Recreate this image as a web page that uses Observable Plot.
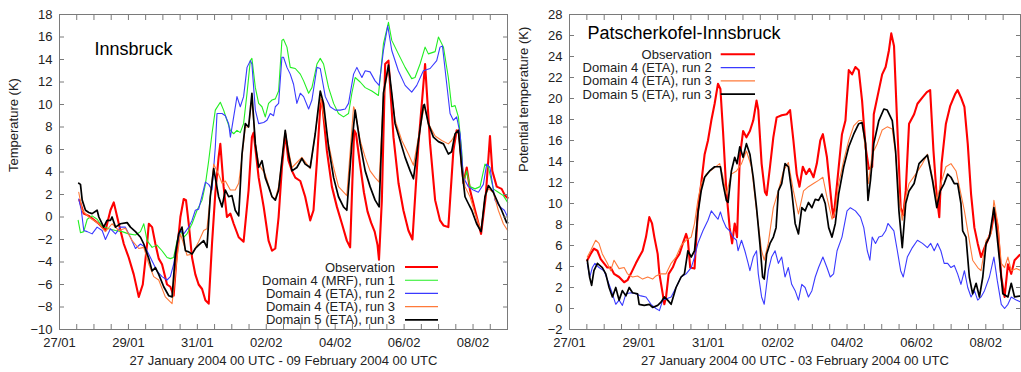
<!DOCTYPE html>
<html>
<head>
<meta charset="utf-8">
<script src="https://cdn.jsdelivr.net/npm/d3@7"></script>
<script src="https://cdn.jsdelivr.net/npm/@observablehq/plot@0.6"></script>
<style>
  body { margin: 0; background: #fff; }
  #wrap { display: flex; width: 1021px; height: 372px; }
  #wrap svg { display: block; }
</style>
</head>
<body>
<div id="wrap"></div>
<script>
// Time is given in hours after 27 January 2004 00 UTC.
const startUTC = Date.UTC(2004, 0, 27);
const spanDays = 13;

// Labelled x ticks (days after start) and y ticks
const xTickDays = [0, 2, 4, 6, 8, 10, 12];
const ibkYTicks = [-10, -8, -6, -4, -2, 0, 2, 4, 6, 8, 10, 12, 14, 16, 18];
const pkYTicks = [-2, 0, 2, 4, 6, 8, 10, 12, 14, 16, 18, 20, 22, 24, 26, 28];

const seriesNames = ["Observation", "Domain 4 (MRF), run 1", "Domain 4 (ETA), run 2", "Domain 4 (ETA), run 3", "Domain 5 (ETA), run 3"];

// ---- Innsbruck temperature (K) ----
const ibkObs = [[13.9,1.5],[16.9,0.3],[20.4,0.1],[27.4,-0.6],[32,-1.2],[35.5,0.6],[37.8,1.3],[41.3,-0.6],[44.8,-2.4],[48.2,-3.6],[51.7,-5.1],[55.2,-7.1],[58,-6],[61,-2.4],[62.2,-0.6],[64.5,-0.9],[66.8,-2.4],[69.1,-3.7],[71.4,-4.2],[74.9,-6],[77.2,-6.2],[79.5,-7],[81.9,-3],[84.2,0],[86.5,1.6],[88.1,1.5],[90,-0.6],[92.3,-3.6],[94.6,-5.1],[96.9,-6],[99.3,-6.4],[101.6,-7.4],[103.9,-7.7],[106.2,-2.4],[108.5,2.1],[110.8,5.3],[112,6.5],[114.3,2.7],[116.6,0],[119,0.3],[121.3,-0.6],[124.8,-1.8],[128.2,-2.2],[131.7,2.4],[134,7.1],[135.2,7.5],[138.7,3.5],[142.2,0.9],[145.6,-2.1],[148,-3],[150.3,-2.8],[152.6,0],[154.9,4.4],[157.2,7.4],[159.5,5],[161.9,4.1],[164.2,3.5],[167.7,3.2],[171.1,1.8],[174.6,-0.3],[176.9,0.6],[179.3,5],[181.6,9.8],[182.7,10.4],[186.2,5.9],[189.7,2.7],[193.2,0.9],[196.7,-0.6],[200.1,-2.1],[202.4,-2.7],[205.2,7.7],[206.5,7.4],[209.5,4.5],[212,2.2],[214.5,0.5],[217,-0.5],[219.5,-1.3],[221.5,-2.5],[222.5,-3.8],[224.5,1.5],[226.8,13.6],[229.1,13.9],[232.6,7.1],[236.1,3],[239.5,0.6],[243,-1.2],[245.8,-2],[250,6.5],[254.6,13.6],[258.1,6.5],[261.6,1.5],[265,-0.3],[267.4,-0.75],[270.8,-0.9],[274.3,5.9],[276.6,7.7],[278.3,7.4],[281.3,3],[283.6,4.4],[285.9,2.4],[289.4,0.6],[293.6,-1.5],[296.8,1.8],[299.8,7.2],[301.4,4.1],[304.5,2.7],[307.9,2.5],[310.3,1.9],[312.1,1.7]];

const ibkMrf1 = [[13,-0.3],[14.6,-1.4],[16.9,-1.3],[19.3,-0.2],[22.7,0.1],[26.2,-0.2],[29.7,-0.8],[34.3,-1.05],[39,-1.2],[43.6,-1.3],[48.2,-1.5],[52.9,-1.6],[56.4,-1.3],[58.7,-0.6],[61,-2.1],[64.5,-2.7],[67.9,-2.5],[71.4,-3],[74.9,-3.6],[77.2,-3.7],[79.5,-3.6],[81.9,-2.1],[84.2,-1.2],[86.5,-1.8],[88.8,-1.5],[92.3,-0.6],[95.8,0.6],[99.3,1.5],[101.6,2.9],[103.9,5],[106.2,7.4],[108.5,9.5],[112,10.2],[114.3,9.5],[116.6,8.6],[119,7.7],[121.3,7.4],[123.6,7.7],[125.9,7.5],[128.2,8.3],[130.6,11],[132.9,13.9],[134,14.1],[136.4,11.5],[138.7,10.1],[141,9.8],[143.3,8.9],[145.6,10.1],[148,10.4],[150.3,10.5],[152.6,11.2],[154.9,15.7],[156,15.8],[158.4,15.1],[160.7,13.3],[164.2,13.2],[167.7,12.7],[170,12.1],[173.5,11],[175.8,11.5],[179.3,13.6],[181.6,14.1],[183.9,13.6],[187.4,11.5],[190.9,10.1],[194.3,9.2],[197.8,8.9],[201.3,9.2],[203.6,11],[205.9,12.4],[209.4,12],[212.9,11.5],[217.5,11.2],[222.1,10.8],[225.6,15.4],[229.1,17.3],[231.4,15.7],[236,14.5],[240.7,13.3],[245.3,12.3],[247.6,12.4],[251.1,13.6],[254.6,15.1],[256.9,14.5],[261.6,14.7],[263.9,16],[267.4,15.1],[270.8,12.4],[273.1,9.8],[275.5,9.9],[277.8,8.9],[280.1,5.9],[281.3,3],[283.6,4.1],[285.9,2.7],[289.4,2.5],[292.9,2.7],[296.3,4.7],[298.7,4.4],[302.1,2.5],[305.6,2.2],[309.1,1.9],[312.1,1.3]];

const ibkEta2 = [[13.4,1.6],[15.2,0.6],[16.9,-1.2],[19.3,-1.3],[22.7,-1.5],[26.2,-0.9],[29.7,-1.2],[32,-2],[35.5,-1.05],[39,-1.5],[42.4,-0.9],[45.9,-0.9],[49.4,-1.8],[52.9,-2.8],[56.4,-2.4],[59.8,-2.7],[63.3,-3.6],[65.6,-4.2],[67.9,-4.8],[71.4,-5.3],[74.9,-5.6],[77.2,-5.3],[79.5,-4.2],[81.9,-2.4],[84.2,-1.2],[86.5,-1.5],[90,-0.9],[92.3,-0.3],[94.6,0.6],[96.9,0.7],[99.3,1.9],[101.6,3.1],[103.9,2.9],[106.2,2.4],[108.5,6.2],[109.7,9.2],[113.2,9.2],[115.5,9],[117.8,8.3],[119,7.1],[121.3,8.9],[123.6,10.7],[125.9,9.8],[128.2,10.7],[130.6,13.3],[132.9,13.9],[134,13.6],[136.4,9.5],[138.7,8.3],[142.2,8.4],[144.5,8.6],[146.8,9.2],[149.1,9],[150.3,9.8],[152.6,10.1],[154.9,14.2],[156,14.2],[158.4,13.3],[160.7,12.7],[163,11.8],[165.3,10.1],[167.7,11],[170,10.7],[173.5,9.6],[175.8,10.4],[179.3,13.3],[181.6,13.2],[185.1,10.7],[188.5,9.8],[192,9.5],[195.5,9.5],[199,9.6],[201.3,10.1],[204.8,12.7],[207.1,13.3],[208.2,13],[210.6,12.4],[212.9,13],[216.3,12.9],[219.8,12.1],[222.6,11.7],[225.6,14.8],[228.6,17],[231.4,14.8],[236,13],[240.7,11.7],[245.3,11.1],[248.8,11.7],[253.4,13],[258.1,13.2],[262.7,13.9],[265,15.1],[266.7,15.2],[269.7,11.8],[272,9.2],[274.3,8.6],[276.6,8.9],[279,7.4],[281.3,3.5],[284.7,2.7],[288.2,2.4],[291.7,2.2],[295.2,2.9],[297.5,4.7],[299.8,4.4],[303.3,1.5],[306.8,0.9],[309.8,0.6],[312.1,0]];

const ibkEta3 = [[13.4,2.2],[15.8,0.6],[20.4,0],[27.4,-0.6],[32,-1.3],[36.6,-0.6],[41.3,-1.2],[45.9,-1.0],[50.6,-2.1],[55.2,-2.8],[58.7,-2.7],[62.2,-4.2],[65.6,-5.3],[69.1,-5.6],[73.7,-7.1],[78.4,-7.7],[81.9,-3.6],[84.2,-1.5],[86.5,-2.4],[88.8,-3.4],[92.3,-3.3],[96.9,-2.2],[100.4,-1.2],[102.7,-1.05],[105,1.8],[107.4,4.7],[110.8,3.8],[113.2,3],[115.5,3.2],[119,2.4],[122.4,2.4],[124.8,3],[127.1,5.3],[129.4,8],[131.7,8],[134,10.5],[136.4,6.5],[138.7,4.7],[143.3,3.8],[148,1.8],[150.3,1.6],[152.6,2.7],[157.2,7.4],[161.9,4.4],[166.5,5],[168.8,5.3],[174.6,4.3],[178.1,7.4],[181.6,10.7],[187.4,6.5],[190.9,4.4],[194.3,2.7],[200.1,1.9],[204.8,9.8],[205.9,9.5],[209.4,6.8],[212.9,5.3],[216.3,4.1],[219.8,3.5],[222.6,3.1],[225.6,10.7],[229.1,13.3],[233.7,8.6],[238.4,6.8],[243,5.6],[246.5,4.6],[250,7.1],[254.1,9.9],[256.9,8.3],[261.6,7.2],[266.2,6.8],[270.8,6.5],[273.1,6.8],[277.8,7.8],[280.1,4.4],[282.4,2.7],[285.9,1.8],[289.4,0.3],[293.6,-1.2],[296.3,1.8],[298.7,2.5],[302.1,2.2],[305.6,0.6],[309.1,-0.6],[312.1,-1.2]];

const ibkD5Eta3 = [[13.4,3.0],[14.6,2.9],[15.8,1.5],[18.1,0.6],[20.4,0.4],[22.7,0.3],[26.2,0.6],[27.4,0],[30.8,-0.9],[33.1,-0.3],[35.5,-0.3],[36.6,0],[39,-0.9],[42.4,-0.6],[47.1,-0.5],[49.4,-0.9],[52.9,-1.3],[56.4,-1.8],[58.7,-2.4],[62.2,-3.7],[64.5,-4.8],[66.8,-4.5],[69.1,-5.1],[72.6,-6.2],[76.1,-7],[78.4,-7.1],[80.7,-3.3],[83,-1.5],[85.3,-0.9],[87.7,-3],[90,-3.1],[92.3,-3.3],[94.6,-2.8],[96.9,-2.5],[100.4,-2.1],[102.7,-2.7],[105,1.8],[107.4,4.3],[108.5,3.5],[110.8,1.8],[113.2,0.9],[115.5,2.4],[117.8,1.8],[120.1,1.9],[122.4,0.6],[124.8,0.1],[127.1,5.6],[129.4,8.3],[131.7,8],[134,11],[136.4,6.5],[138.7,4.4],[141,5],[143.3,3.5],[145.6,2.7],[148,1.8],[150.3,1.5],[152.6,2.4],[157.2,7.7],[159.5,5.6],[161.9,4.1],[165.3,4.4],[168.8,5.2],[171.1,4.7],[174.6,4.4],[178.1,7.4],[181.6,11.2],[183.9,10.1],[187.4,6.2],[190.9,3.5],[194.3,1.8],[197.8,0.9],[200.1,0.6],[203.6,6.5],[205.9,9.5],[209.4,6.5],[212.9,4.1],[216.3,2.7],[219.8,1.5],[222.6,0.9],[225.6,11],[229.1,13.5],[231.4,11],[233.7,8.3],[237.2,6.8],[240.7,5.3],[244.2,4.1],[246.5,3.4],[250,6.8],[253.4,9.9],[254.1,10],[256.9,8.3],[260.4,7.1],[263.9,6.7],[267.4,6.5],[270.8,5.6],[273.1,5.8],[275.5,7.4],[277.8,7.7],[280.1,4.4],[282.4,1.8],[284.7,1.2],[287.1,0.6],[290.5,-0.6],[293.6,-1.3],[296.3,1.8],[298.7,2.8],[302.1,2.2],[305.6,1.2],[307.9,0.6],[311.4,-0.5],[312.1,-0.5]];

// ---- Patscherkofel minus Innsbruck potential temperature (K) ----
const pkObs = [[12.3,4.6],[14.6,5.2],[16.9,5.7],[19.3,5.5],[21.6,4.7],[23.9,4.3],[26.2,3.9],[28.5,3.9],[30.8,3.3],[34.3,3],[37.8,2.5],[40.1,2.7],[42.4,3.3],[45.9,4.3],[48.2,4.9],[50.6,5.5],[52.9,6.8],[55.2,8.7],[57.1,8.1],[58.7,6.8],[61,5.2],[62.2,3.3],[64.5,1.4],[65.6,0.4],[66.8,1.1],[68.6,3.3],[71.4,3.9],[73.7,4.7],[76.1,5.2],[78.4,6.2],[80.7,7.1],[81.9,6.5],[83.5,3.9],[86.5,3.8],[88.8,9.3],[91.1,11.9],[93.5,14.7],[95.8,16],[98.1,17.9],[100.4,19.5],[102.7,21.4],[104.4,20.9],[106.2,16.9],[108.5,11.2],[110.8,7.7],[112.5,6.2],[114.3,8.1],[115.9,6.8],[117.8,14.4],[120.1,16.9],[122.4,16.3],[124.8,16.9],[127.1,17.9],[129.4,19.8],[130.6,18.9],[132.9,13.8],[135.2,11.1],[136.4,10.8],[138.7,13.5],[141,16.3],[143.3,18.2],[146.8,18.4],[150.3,18.5],[152.6,18.9],[154.9,16],[157.2,12.8],[159.1,11.6],[161.4,13.5],[163.7,12.8],[166,13.3],[168.8,12.5],[171.1,13.8],[173.5,16],[175.3,16.6],[178.1,14.4],[181.6,9.6],[182.7,8.7],[185.1,11.9],[188.5,16.6],[190.9,17.9],[193.2,22.7],[195.5,22.3],[197.8,23],[200.1,22.7],[202.4,19.8],[204.8,15.4],[207.1,13.3],[209.4,13.5],[210.5,18.5],[214,20.8],[216.3,22.3],[218.7,23],[221,24.6],[222.6,26.2],[224.5,25],[226.3,18.9],[229.1,9.6],[230.9,8.9],[232.6,11.2],[234.9,17.6],[238.4,18.5],[240.7,19.5],[244.2,20.1],[247.2,20.6],[249.5,20.8],[251.8,15],[254.1,10.6],[255.8,8.7],[257.4,13.8],[260.4,17.6],[263.4,19.3],[266.7,20.4],[268.5,20.8],[270.8,20.1],[273.2,19.2],[275.5,15.7],[277.8,10.9],[280.1,7.7],[282.4,6.2],[284.7,4.9],[287.1,5.8],[289.4,6.5],[291.7,7.4],[294,9.3],[296.3,7.7],[298.7,3],[301,1.1],[303.3,4.2],[305.6,3.3],[307.9,4.6],[311.4,5.1]];

const pkEta2 = [[12.3,4.3],[14,3],[15.8,3.9],[17.6,4.3],[20.4,3.9],[23.9,3.6],[27.4,2.3],[29.7,1.4],[32,0.4],[34.3,0.8],[36.6,0.3],[39,1.4],[42.4,1.5],[45.9,1.4],[49.4,1.2],[52.9,1.1],[56.4,0.4],[59.8,0],[62.2,-0.2],[64.5,0.8],[66.8,0.9],[70.3,1.1],[73.7,2],[77.2,3],[80.7,3.3],[84.2,3.9],[86.5,4.9],[88.8,6.2],[92.3,7.4],[95.8,8.4],[98.1,9.3],[100.4,8.9],[102.7,8.5],[104.4,9.2],[106.2,8.4],[108.5,7.7],[110.8,7.4],[113.2,6.8],[115.5,6.5],[116.6,5.5],[119,6.5],[121.3,5.5],[123.6,4.3],[124.8,3.6],[127.1,4.9],[129.4,5.5],[130.6,3.3],[132.9,1.1],[134.7,0.4],[137.5,3.6],[139.8,4.9],[142.2,5.5],[144.5,4.3],[146.8,4.9],[149.1,3],[151.4,3.9],[153.7,2.3],[156.1,1.7],[158.4,0.8],[160.7,2.3],[163,2],[165.3,1.1],[167.7,1.7],[170,3],[172.3,3.9],[175.3,4.9],[178.1,3.9],[180.4,3],[182.7,3.3],[185.1,5.5],[188.5,6.8],[192,9.3],[194.3,9.6],[197.8,9.3],[201.3,8.7],[203.6,7.7],[206,5.5],[207.8,4.6],[209.4,6.8],[211.7,6.2],[214,6.8],[216.3,6.9],[218.7,7.4],[220.3,8.1],[222.6,7.7],[224.4,7.4],[226.8,5.5],[229.1,3.6],[230.9,3],[233.7,4.9],[237.2,5.8],[240.7,6.5],[244.2,6.2],[247.6,5.8],[249.9,6.2],[252.3,5.5],[254.6,6.2],[256.9,5.5],[259.2,4.3],[261.6,4.3],[263.9,3.9],[266.2,4.1],[268.5,3.3],[270.8,2.3],[273.2,3.6],[275.5,2],[277.8,1.1],[280.1,1.7],[282.4,0.8],[284.7,1.1],[287.1,1.7],[290.5,3],[293.6,4.9],[295.9,2.7],[298.7,0.4],[301,0],[303.3,0.4],[305.6,1.1],[309.1,0.8],[312.6,0.6]];

const pkEta3 = [[12.3,4.9],[14.6,5.5],[18.1,6.5],[20.4,6.2],[22.7,5.2],[26.2,4.3],[28.5,3.6],[30.8,4.6],[34.3,3.8],[37.8,3.9],[40.1,3.3],[43.6,3],[47.1,3.1],[50.6,2.8],[54.1,3],[57.5,2.8],[59.8,3.1],[63.3,3.3],[66.8,3.3],[70.3,4.3],[73.7,4.9],[77.2,6],[80.7,6.5],[84.2,6.8],[86.5,8.1],[88.8,10.3],[91.1,11.9],[94.6,12.8],[99.3,13.3],[103.9,13.8],[106.2,12.5],[108.5,10.9],[112,12.8],[115.5,13.1],[119,13.8],[122.4,15],[125.9,13.5],[129.4,9.3],[132.9,5.5],[134.7,4.6],[137.5,6.2],[141,9.6],[144.5,11.2],[148,13.1],[151.4,13.9],[154.9,11.2],[158.4,9],[161.9,11.2],[165.3,11.6],[168.8,11.9],[172.3,12.2],[175.3,12.5],[178.1,10.6],[181.6,8.5],[183.9,9.3],[186.2,11.9],[189.7,14.1],[193.2,16],[196.6,17.4],[200.1,17.9],[202.4,17.9],[204.8,15],[206.8,11.9],[209.4,14.7],[212.9,15.7],[216.3,17],[219.8,17.3],[223.3,17.1],[225.6,14.7],[227.9,10.6],[230.2,8.4],[232.6,10.6],[234.9,11.9],[239.5,12.8],[244.2,13.8],[247.6,14.7],[251.1,12.5],[254.1,10.3],[256.9,11.9],[260.4,13.5],[263.9,13.8],[267.4,13.1],[270.8,10.9],[273.2,9.3],[275.5,7.4],[278.9,4.6],[282.4,3.9],[284.7,3.6],[288.2,6.5],[291.7,7.1],[293.6,10.3],[296.3,8.1],[298.7,4.3],[301,3.9],[303.3,4.9],[305.6,3.6],[309.1,3.8],[312.6,3.6]];

const pkD5Eta3 = [[12.3,4.6],[13.9,3],[15.3,2.2],[16.9,3.6],[19.3,4.3],[22.7,3.9],[25.1,3.3],[27.4,2],[29.7,1.1],[32,2],[34.3,0.8],[36.6,1.7],[39,1.2],[41.3,2],[43.6,1.5],[47.1,1.4],[48.2,0.4],[51.7,0.3],[55.2,0.4],[57.5,0.1],[61,0.3],[63.3,0.6],[65.6,1.1],[67.9,0.8],[70.3,0.4],[73.7,2],[77.2,3],[79.5,3.3],[81.9,5.5],[84.2,4.9],[86.5,5.5],[88.8,9],[91.1,11.2],[93.5,12.5],[96.9,13.1],[100.4,13.5],[102.7,13.5],[104.4,13.5],[106.2,11.9],[108.5,10.3],[109.7,10.1],[112,13.1],[114.3,14.4],[115.9,13.8],[117.8,15.4],[120.1,14.4],[122.4,15.7],[124.8,14.7],[127.1,12.5],[129.4,9.6],[131.7,6.2],[133.6,3],[134.7,2.8],[136.4,5.2],[138.7,6.2],[141,6.8],[142.9,7.7],[144.5,11.2],[146.8,11.9],[149.1,13.8],[151.4,13.5],[153.7,11.2],[156.1,8.1],[158.4,7.1],[160.7,9.6],[163,9.3],[165.3,10.1],[167.7,9.6],[170,10.4],[172.3,10.3],[174.6,10.9],[176.9,10],[179.3,7.7],[181.6,6.8],[183.9,8.1],[186.2,10.9],[189.7,13.5],[193.2,15.4],[196.6,16.6],[200.1,17.6],[202.4,17.7],[204.8,15.7],[206.5,10.3],[208.2,12.2],[210.5,15.7],[214,17.9],[217.5,19],[219.8,18.9],[223.3,17.9],[225.6,15],[227.9,9.3],[230.2,5.8],[232.6,10],[234.9,11.2],[238.4,11.9],[241.8,13.8],[245.3,14.3],[247.6,14.6],[251.1,12.2],[254.1,9.6],[256.5,11.2],[259.2,11.9],[261.6,12.8],[263.9,12.5],[266.2,11.9],[268.5,11.9],[270.8,10],[272,7.4],[274.3,6.8],[276.6,3],[278.9,1.4],[281.3,2.4],[283.6,1.1],[285.9,3],[288.2,6.2],[290.5,6.8],[293.6,9.6],[295.2,7.7],[297.5,4.6],[299.8,1.4],[303.3,1.1],[305.6,2.4],[307.9,1.1],[312.6,1.2]];

// ---- drawing ----
const FONT = "'Liberation Sans', Arial, Helvetica, sans-serif";
const TEXT = "#222";
const toDate = h => new Date(startUTC + h * 3600e3);
const xDomain = [new Date(startUTC), new Date(startUTC + spanDays * 864e5)];
const xMajor = xTickDays.map(d => new Date(startUTC + d * 864e5));
const xMinor = d3.range(0, spanDays * 2 + 1).map(i => new Date(startUTC + i * 12 * 3600e3));
const fmtDay = d3.utcFormat("%d/%m");

const style = {
  obs: {color: "#ff0000", width: 2.1},
  mrf1: {color: "#22ee22", width: 1.1},
  eta2: {color: "#3a3aff", width: 1.1},
  eta3: {color: "#ff7a3a", width: 1.1},
  d5: {color: "#000000", width: 1.7}
};

function panel({width, marginLeft, marginRight, yDomain, yTicks, yLabel, xLabel, title, titleDx, titleDy, series, legend}) {
  const lines = series.map(s => Plot.line(s.data, {
    x: d => toDate(d[0]), y: d => d[1],
    stroke: s.color, strokeWidth: s.width, strokeLinejoin: "round"
  }));
  const svg = Plot.plot({
    width, height: 372,
    marginLeft, marginRight, marginTop: 14, marginBottom: 43,
    style: {fontFamily: FONT, fontSize: "13px", color: TEXT, background: "#fff"},
    x: {type: "utc", domain: xDomain},
    y: {domain: yDomain},
    marks: [
      ...lines,
      Plot.frame({stroke: "#7a7a7a", strokeWidth: 1}),
      // inward ticks on all four sides
      Plot.axisX(xMinor, {anchor: "bottom", tickSize: -5, fill: "none", label: null, stroke: "#7a7a7a"}),
      Plot.axisX(xMinor, {anchor: "top", tickSize: -5, fill: "none", label: null, stroke: "#7a7a7a"}),
      Plot.axisY(yTicks, {anchor: "left", tickSize: -5, fill: "none", label: null, stroke: "#7a7a7a"}),
      Plot.axisY(yTicks, {anchor: "right", tickSize: -5, fill: "none", label: null, stroke: "#7a7a7a"}),
      // tick labels
      Plot.axisX(xMajor, {anchor: "bottom", tickSize: 0, tickPadding: 8, tickFormat: fmtDay, label: null, fontSize: 13, fill: TEXT}),
      Plot.axisY(yTicks, {anchor: "left", tickSize: 0, tickPadding: 7, label: null, fontSize: 13, fill: TEXT}),
      // axis titles
      Plot.text([xLabel], {frameAnchor: "bottom", dy: 35, fontSize: 13, fill: TEXT}),
      Plot.text([yLabel], {frameAnchor: "left", dx: -46, rotate: -90, fontSize: 13, fill: TEXT}),
      Plot.text([title], {frameAnchor: "top-left", dx: titleDx, dy: titleDy, textAnchor: "start", lineAnchor: "middle", fontSize: 18, fill: "#000"})
    ]
  });
  // key: right-aligned names with a short line sample each
  const g = d3.select(svg).append("g").attr("font-family", FONT).attr("font-size", 13);
  series.forEach((s, i) => {
    const y = legend.top + i * legend.step;
    g.append("text").attr("x", legend.textRight).attr("y", y).attr("dy", "0.35em")
      .attr("text-anchor", "end").attr("fill", TEXT).text(s.name);
    g.append("line").attr("x1", legend.lineFrom).attr("x2", legend.lineTo)
      .attr("y1", y).attr("y2", y).attr("stroke", s.color).attr("stroke-width", s.width);
  });
  return svg;
}

const wrap = document.getElementById("wrap");

wrap.appendChild(panel({
  width: 510, marginLeft: 59, marginRight: 3,
  yDomain: [-10, 18], yTicks: ibkYTicks,
  yLabel: "Temperature (K)",
  xLabel: "27 January 2004 00 UTC - 09 February 2004 00 UTC",
  title: "Innsbruck", titleDx: 35, titleDy: 35,
  series: [
    {name: seriesNames[0], data: ibkObs, ...style.obs},
    {name: seriesNames[1], data: ibkMrf1, ...style.mrf1},
    {name: seriesNames[2], data: ibkEta2, ...style.eta2},
    {name: seriesNames[3], data: ibkEta3, ...style.eta3},
    {name: seriesNames[4], data: ibkD5Eta3, ...style.d5}
  ],
  legend: {top: 267, step: 13.2, textRight: 395, lineFrom: 405, lineTo: 438}
}));

wrap.appendChild(panel({
  width: 511, marginLeft: 59, marginRight: 1,
  yDomain: [-2, 28], yTicks: pkYTicks,
  yLabel: "Potential temperature (K)",
  xLabel: "27 January 2004 00 UTC - 03 February 2004 00 UTC",
  title: "Patscherkofel-Innsbruck", titleDx: 18, titleDy: 19,
  series: [
    {name: seriesNames[0], data: pkObs, ...style.obs},
    {name: seriesNames[2], data: pkEta2, ...style.eta2},
    {name: seriesNames[3], data: pkEta3, ...style.eta3},
    {name: seriesNames[4], data: pkD5Eta3, ...style.d5}
  ],
  legend: {top: 54.3, step: 13.3, textRight: 201.7, lineFrom: 210.7, lineTo: 245}
}));
</script>
</body>
</html>
